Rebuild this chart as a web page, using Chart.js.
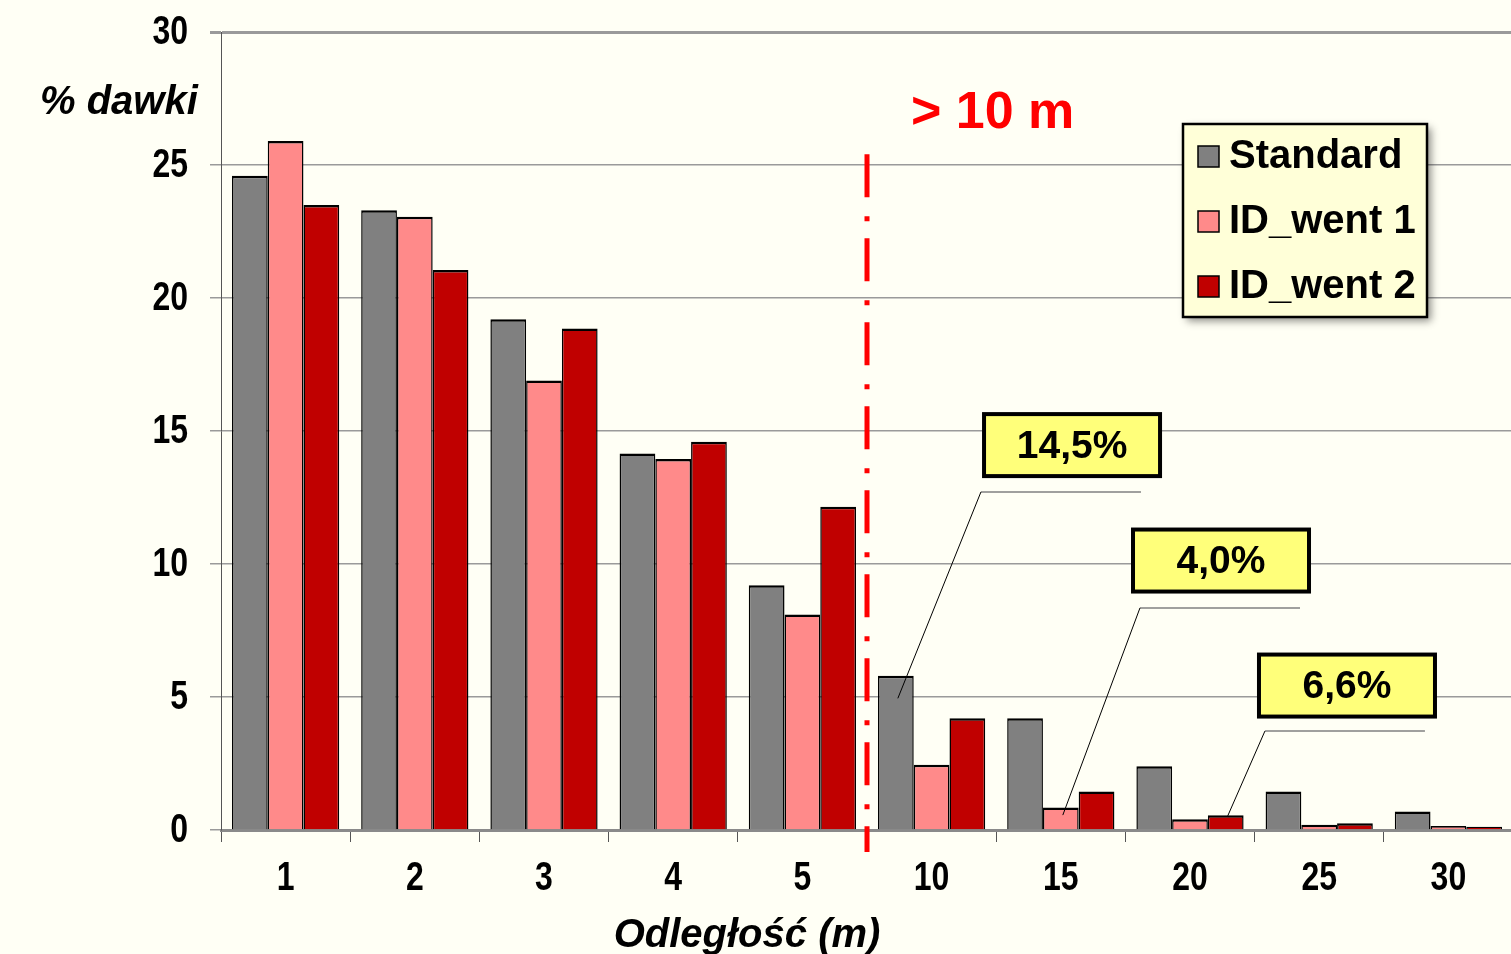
<!DOCTYPE html>
<html>
<head>
<meta charset="utf-8">
<script src="https://cdn.jsdelivr.net/npm/chart.js@4.4.1/dist/chart.umd.min.js"></script>
<style>
  body { margin: 0; background: #fffff5; overflow: hidden; }
  #wrap { width: 1513px; height: 954px; position: relative; }
</style>
</head>
<body>
<div id="wrap"><canvas id="doseChart"></canvas></div>
<script>
// data
const categories = ['1', '2', '3', '4', '5', '10', '15', '20', '25', '30'];
const standard = [24.6, 23.3, 19.2, 14.15, 9.2, 5.8, 4.2, 2.4, 1.45, 0.7];
const idWent1 = [25.9, 23.05, 16.9, 13.95, 8.1, 2.45, 0.85, 0.4, 0.2, 0.15];
const idWent2 = [23.5, 21.05, 18.85, 14.6, 12.15, 4.2, 1.45, 0.55, 0.25, 0.12];
const yTicks = [0, 5, 10, 15, 20, 25, 30];
const calloutTexts = ['14,5%', '4,0%', '6,6%'];

const regular = "'Liberation Sans', Arial, sans-serif";
const squeeze = 0.78; // the tick labels are a squeezed bold face

// callouts: box centre in (category, value) units, leader start, tip on a bar
const callouts = [
  { text: calloutTexts[0], bx: 6.087, by: 14.47, lx: 5.382, ly: 12.71, ds: 0, idx: 5, tip: 4.95 },
  { text: calloutTexts[1], bx: 7.24, by: 10.13, lx: 6.613, ly: 8.35, ds: 1, idx: 6, tip: 0.56 },
  { text: calloutTexts[2], bx: 8.215, by: 5.43, lx: 7.58, ly: 3.72, ds: 2, idx: 7, tip: 0.53 }
];

function squeezedText(ctx, text, x, y, align) {
  ctx.save();
  ctx.translate(x, y);
  ctx.scale(squeeze, 1);
  ctx.textAlign = align;
  ctx.fillText(text, 0, 0);
  ctx.restore();
}

const extras = {
  id: 'extras',
  afterDatasetsDraw(chart) {
    const ctx = chart.ctx;
    const x = chart.scales.x;
    const y = chart.scales.y;

    ctx.save();
    ctx.fillStyle = '#000';

    // tick labels
    ctx.font = 'bold 41px ' + regular;
    ctx.textBaseline = 'middle';
    y.ticks.forEach(t => {
      squeezedText(ctx, String(t.value), y.right - 33, y.getPixelForValue(t.value) + 1, 'right');
    });
    chart.data.labels.forEach((lab, i) => {
      squeezedText(ctx, lab, x.getPixelForValue(i), x.top + 49, 'center');
    });

    // axis captions
    ctx.font = 'italic bold 40px ' + regular;
    ctx.textBaseline = 'middle';
    ctx.textAlign = 'left';
    ctx.fillText('% dawki', 40, 103);
    ctx.textAlign = 'center';
    ctx.fillText('Odległość (m)', 747, x.top + 106);
    ctx.textAlign = 'left';

    // red dash-dot separator
    const sepX = x.getPixelForValue(4.5);
    ctx.strokeStyle = '#ff0000';
    ctx.lineWidth = 5;
    ctx.setLineDash([43, 19, 5, 17]);
    ctx.beginPath();
    ctx.moveTo(sepX, y.getPixelForValue(25.4));
    ctx.lineTo(sepX, y.bottom + 22);
    ctx.stroke();
    ctx.setLineDash([]);

    ctx.fillStyle = '#ff0000';
    ctx.font = 'bold 52px ' + regular;
    ctx.textBaseline = 'alphabetic';
    ctx.fillText('> 10 m', sepX + 44, y.getPixelForValue(26.4));

    // callouts
    callouts.forEach(c => {
      const bar = chart.getDatasetMeta(c.ds).data[c.idx];
      const lx = x.getPixelForValue(c.lx);
      const ly = y.getPixelForValue(c.ly);
      ctx.strokeStyle = '#808080';
      ctx.lineWidth = 1.5;
      ctx.beginPath();
      ctx.moveTo(lx, ly);
      ctx.lineTo(lx + 160, ly);
      ctx.stroke();
      ctx.strokeStyle = '#000';
      ctx.lineWidth = 1;
      ctx.beginPath();
      ctx.moveTo(lx, ly);
      ctx.lineTo(bar.x + 2, y.getPixelForValue(c.tip));
      ctx.stroke();

      const cx = x.getPixelForValue(c.bx);
      const cy = y.getPixelForValue(c.by);
      ctx.fillStyle = '#ffff7a';
      ctx.fillRect(cx - 88, cy - 31, 176, 62);
      ctx.strokeStyle = '#000';
      ctx.lineWidth = 4;
      ctx.strokeRect(cx - 88, cy - 31, 176, 62);
      ctx.fillStyle = '#000';
      ctx.font = 'bold 39px ' + regular;
      ctx.textAlign = 'center';
      ctx.textBaseline = 'middle';
      ctx.fillText(c.text, cx, cy + 2);
      ctx.textAlign = 'left';
    });

    // legend box
    const lgX = 1183, lgY = 124, lgW = 244, lgH = 193;
    ctx.shadowColor = 'rgba(0,0,0,0.45)';
    ctx.shadowBlur = 8;
    ctx.shadowOffsetX = 4;
    ctx.shadowOffsetY = 4;
    ctx.fillStyle = '#ffffd8';
    ctx.fillRect(lgX, lgY, lgW, lgH);
    ctx.shadowColor = 'transparent';
    ctx.strokeStyle = '#000';
    ctx.lineWidth = 2.5;
    ctx.strokeRect(lgX, lgY, lgW, lgH);
    ctx.font = 'bold 40px ' + regular;
    ctx.textBaseline = 'middle';
    chart.data.datasets.forEach((ds, i) => {
      const ey = lgY + 32 + i * 65;
      ctx.fillStyle = ds.backgroundColor;
      ctx.fillRect(1198, ey - 10, 21, 21);
      ctx.strokeStyle = '#000';
      ctx.lineWidth = 1.5;
      ctx.strokeRect(1198, ey - 10, 21, 21);
      ctx.fillStyle = '#000';
      ctx.fillText(ds.label, 1229, ey + 1);
    });
    ctx.restore();
  }
};

const ctx = document.getElementById('doseChart').getContext('2d');
const doseChart = new Chart(ctx, {
  type: 'bar',
  data: {
    labels: categories,
    datasets: [
      { label: 'Standard', data: standard, backgroundColor: '#808080' },
      { label: 'ID_went 1', data: idWent1, backgroundColor: '#ff8a8a' },
      { label: 'ID_went 2', data: idWent2, backgroundColor: '#c00000' }
    ]
  },
  options: {
    responsive: true,
    maintainAspectRatio: false,
    animation: false,
    layout: { padding: { top: 32, left: 0, right: 0, bottom: 0 } },
    datasets: {
      bar: {
        categoryPercentage: 0.83,
        barPercentage: 1,
        borderColor: '#000',
        borderWidth: { top: 2.5, left: 1.5, right: 1.5, bottom: 0 }
      }
    },
    plugins: {
      legend: { display: false },
      tooltip: { enabled: false }
    },
    scales: {
      x: {
        offset: true,
        afterFit: scale => { scale.height = 124; },
        grid: {
          offset: true,
          drawOnChartArea: false,
          tickLength: 12,
          color: '#555',
          lineWidth: 1
        },
        border: { color: '#8a8a8a', width: 3 },
        ticks: { display: false }
      },
      y: {
        min: 0,
        max: 30,
        afterFit: scale => { scale.width = 221; },
        afterBuildTicks: scale => { scale.ticks = yTicks.map(v => ({ value: v })); },
        grid: {
          color: '#9a9a9a',
          lineWidth: c => (c.tick && c.tick.value === 30 ? 3 : 1.5),
          tickLength: 11
        },
        border: { color: '#555', width: 1 },
        ticks: { display: false }
      }
    }
  },
  plugins: [extras]
});
</script>
</body>
</html>
